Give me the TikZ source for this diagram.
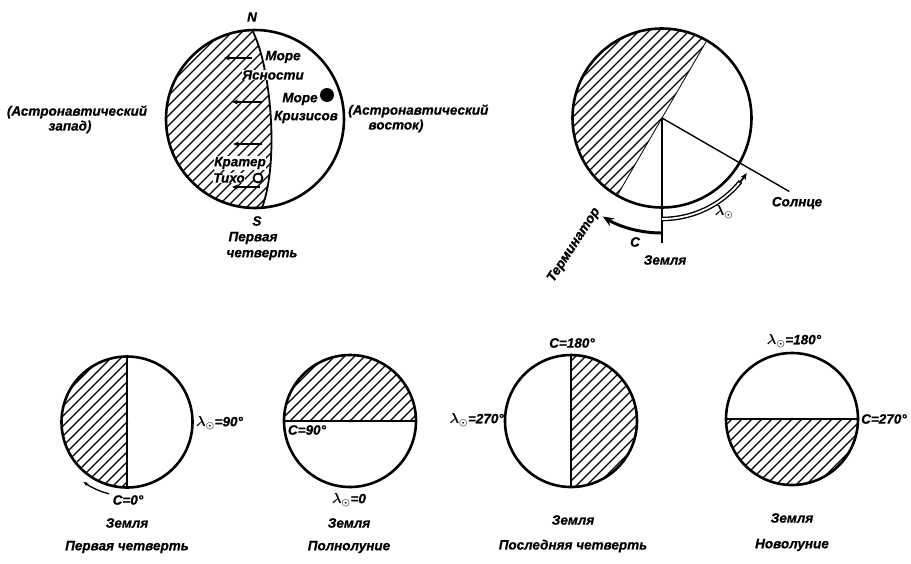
\documentclass[tikz,border=0pt]{standalone}
\usepackage{fontspec}
\setmainfont{Liberation Sans}[BoldItalicFeatures={FakeBold=0.6}]
\usetikzlibrary{arrows.meta,calc}
\tikzset{
  lbl/.style={font=\fontsize{13.5}{15}\selectfont\bfseries\itshape, inner sep=1pt},
  wlbl/.style={lbl, fill=white, inner sep=0.6pt},
  rim/.style={line width=2.6pt},
  hatchl/.style={line width=1.1pt},
  divl/.style={line width=1.8pt},
  thinl/.style={line width=1.4pt},
  smallarr/.style={line width=1.5pt, -{Stealth[length=6pt,width=5pt]}},
}
\newcommand{\myhatch}[2]{\foreach \k in {-170,-160,...,170} {\draw[hatchl] ({#1+\k-130},{#2+130}) -- ++(260,-260);}}
\newcommand{\lamsun}{{\boldmath$\lambda_{\odot}$}}
\begin{document}
\begin{tikzpicture}[x=1pt,y=-1pt]
\useasboundingbox (0,0) rectangle (911,563);

% ---------- top-left moon ----------
\coordinate (m1) at (255,119);
\begin{scope}
  \clip (252,30) .. controls (270,62) and (280,160) .. (262,207.7)
        arc[start angle=85.5, end angle=268, radius=89] -- cycle;
  \myhatch{255}{119}
\end{scope}
\draw[divl] (252,30) .. controls (270,62) and (280,160) .. (262,207.7);
\draw[rim] (m1) circle (89);
\draw[smallarr] (252,58) -- (224,58);
\draw[smallarr] (262,102) -- (232,102);
\draw[smallarr] (262,144) -- (233,144);
\draw[smallarr] (260,187) -- (232,187);
\node[lbl] (n) at (252,17) {N};
\node[lbl] (s) at (257,221) {S};
\node[lbl] (pv1) at (253,238) {Первая};
\node[lbl] (pv2) at (262,255) {четверть};
\node[wlbl] (mj1) at (283,57) {Море};
\node[wlbl] (mj2) at (273,75) {Ясности};
\node[wlbl] (mk1) at (300,99) {Море};
\node[wlbl] (mk2) at (306,117) {Кризисов};
\fill (327,95) circle (7);
\node[wlbl] (kt1) at (240,163) {Кратер};
\node[wlbl] (kt2) at (229,178) {Тихо};
\draw[line width=1.8pt, fill=white] (258,178) circle (4.5);
\node[lbl] (wz1) at (77,112) {(Астронавтический};
\node[lbl] (wz2) at (70,127) {запад)};
\node[lbl, anchor=west] (ev1) at (347,111) {(Астронавтический};
\node[lbl] (ev2) at (396,126) {восток)};

% ---------- top-right moon ----------
\coordinate (m2) at (662,118);
\begin{scope}
  \clip (m2) ++(120:89.5) arc[start angle=120, end angle=300, radius=89.5] -- cycle;
  \myhatch{662}{118}
\end{scope}
\draw[line width=0.8pt] (m2) ++(120:89.5) -- ++(-60:179);
\draw[rim] (m2) circle (89.5);
\coordinate (sunend) at ($(m2)+(30:147)$);
\coordinate (earthend) at (662,243);
\draw[thinl] (m2) -- (sunend);
\draw[thinl] (m2) -- (earthend);
\draw[line width=3pt, -{Stealth[length=11pt,width=9pt]}] (m2) ++(90:115) arc[start angle=90, end angle=121, radius=115];
\draw[double, double distance=1.8pt, line width=1.4pt] (m2) ++(90:101) arc[start angle=90, end angle=39, radius=101];
\draw[line width=1.8pt, -{Stealth[length=7pt,width=6pt]}] (m2) ++(40:101) arc[start angle=40, end angle=33, radius=101];
\node[lbl] (sol) at (797,203) {Солнце};
\node[lbl] (lam) at (724,212) {\lamsun};
\node[lbl] (cc) at (635,242) {C};
\node[lbl] (zem0) at (665,260) {Земля};
\node[lbl, rotate=57] (term) at (574,245) {Терминатор};

% ---------- bottom circles ----------
% 1: first quarter
\coordinate (b1) at (127,422);
\begin{scope}
  \clip (b1) circle (65.5);
  \clip (50,340) rectangle (127,500);
  \myhatch{127}{422}
\end{scope}
\draw[divl] (127,356.5) -- (127,487.5);
\draw[rim] (b1) circle (65.5);
\fill (b1) circle (1.3);
\draw[line width=1.3pt, -{Stealth[length=5pt,width=4pt]}] (b1) ++(104:74) arc[start angle=104, end angle=126, radius=74];
\node[lbl, anchor=west] (l1) at (195,423) {\lamsun=90°};
\node[lbl] (c1) at (128,500) {C=0°};
\node[lbl] (z1) at (127,523) {Земля};
\node[lbl] (p1) at (127,547) {Первая четверть};

% 2: full moon
\coordinate (b2) at (350,421);
\begin{scope}
  \clip (b2) circle (66);
  \clip (270,340) rectangle (430,421);
  \myhatch{350}{421}
\end{scope}
\draw[divl] (284,421) -- (416,421);
\draw[rim] (b2) circle (66);
\fill (b2) circle (1.6);
\node[lbl] (c2) at (307,430) {C=90°};
\node[lbl] (l2) at (349,500) {\lamsun=0};
\node[lbl] (z2) at (349,523) {Земля};
\node[lbl] (p2) at (349,547) {Полнолуние};

% 3: last quarter
\coordinate (b3) at (571,421);
\begin{scope}
  \clip (b3) circle (66);
  \clip (571,340) rectangle (650,500);
  \myhatch{571}{421}
\end{scope}
\draw[divl] (571,355) -- (571,487);
\draw[rim] (b3) circle (66);
\fill (b3) circle (1.4);
\node[lbl] (c3) at (572,343) {C=180°};
\node[lbl, anchor=east] (l3) at (505,420) {\lamsun=270°};
\node[lbl] (z3) at (573,520) {Земля};
\node[lbl] (p3) at (573,546) {Последняя четверть};

% 4: new moon
\coordinate (b4) at (792,419);
\begin{scope}
  \clip (b4) circle (66);
  \clip (710,419) rectangle (870,500);
  \myhatch{792}{419}
\end{scope}
\draw[divl] (726,419) -- (858,419);
\draw[rim] (b4) circle (66);
\fill (b4) circle (1.6);
\node[lbl] (l4) at (794,341) {\lamsun=180°};
\node[lbl, anchor=west] (c4) at (860,419) {C=270°};
\node[lbl] (z4) at (792,518) {Земля};
\node[lbl] (p4) at (792,545) {Новолуние};
\end{tikzpicture}
\end{document}
